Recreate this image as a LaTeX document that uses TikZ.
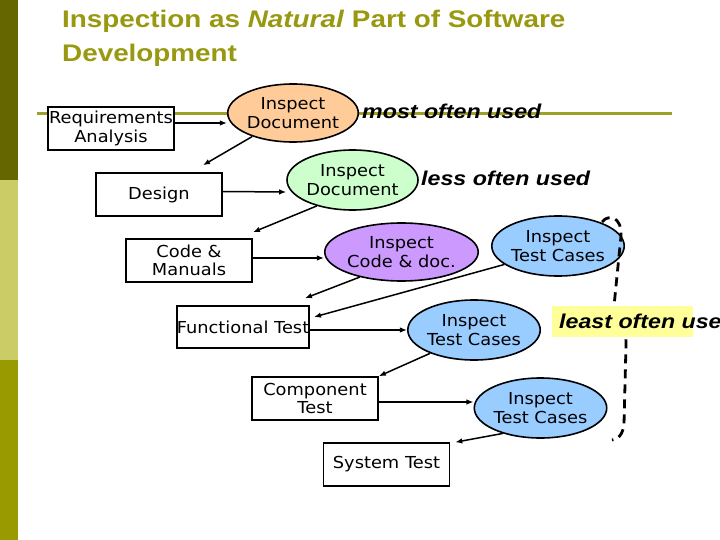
\documentclass[tikz,border=0pt]{standalone}
\usepackage{fontspec}
\usetikzlibrary{shapes.geometric,arrows.meta,calc}
\newfontfamily\vfont[FakeStretch=1.08]{DejaVu Sans}
\newfontfamily\afont[FakeStretch=1.16]{Liberation Sans}
\definecolor{bardark}{RGB}{102,102,0}
\definecolor{barlight}{RGB}{204,204,102}
\definecolor{barmid}{RGB}{153,153,0}
\definecolor{titlecol}{RGB}{153,153,17}
\definecolor{linecol}{RGB}{160,160,40}
\definecolor{orangefill}{RGB}{255,204,153}
\definecolor{greenfill}{RGB}{204,255,204}
\definecolor{purplefill}{RGB}{204,153,255}
\definecolor{bluefill}{RGB}{153,204,255}
\definecolor{yellowfill}{RGB}{255,255,153}
\begin{document}
\begin{tikzpicture}[x=1pt,y=-1pt,
  box/.style={draw, line width=1.6pt, fill=white, minimum width=126pt, minimum height=43pt,
    inner sep=0pt, align=center, font=\vfont\fontsize{16.5}{18.5}\selectfont},
  ell/.style={ellipse, draw, line width=1.6pt, inner sep=0pt, align=center,
    font=\vfont\fontsize{16.5}{18.5}\selectfont},
  arr/.style={line width=1.5pt, -{Latex[length=7pt,width=5.5pt]}},
  note/.style={anchor=west, inner sep=0pt, font=\afont\bfseries\itshape\fontsize{20}{24}\selectfont},
  brace/.style={line width=2.8pt, dash pattern=on 9pt off 6pt}]
\useasboundingbox (0,0) rectangle (720,540);
\fill[white] (0,0) rectangle (720,540);
% left bar
\fill[bardark] (0,0) rectangle (17.5,180);
\fill[barlight] (0,180) rectangle (17.5,360);
\fill[barmid] (0,360) rectangle (17.5,540);
% title
\node[anchor=north west, inner sep=0pt, align=left, text=titlecol,
  font=\afont\bfseries\fontsize{24}{34}\selectfont] (title) at (62,9.5)
  {Inspection as \textit{Natural} Part of Software\\Development};
% horizontal rule
\draw[linecol, line width=3pt] (37,114) -- (672,114);
% boxes
\node[box] (req) at (111,128.5) {Requirements\\Analysis};
\node[box] (design) at (159,194.5) {Design};
\node[box] (code) at (189,260.5) {Code \&\\Manuals};
\node[box, minimum height=42pt] (func) at (243,327) {Functional Test};
\node[box] (comp) at (315,398.5) {Component\\Test};
\node[box] (sys) at (386.5,464.5) {System Test};
% ellipses
\node[ell, fill=orangefill, minimum width=128pt, minimum height=58pt] (orange) at (293,113) {Inspect\\Document};
\node[ell, fill=greenfill, minimum width=131pt, minimum height=60pt] (green) at (352.5,180) {Inspect\\Document};
\node[ell, fill=purplefill, minimum width=129pt, minimum height=58pt] (purple) at (401.5,252) {Inspect\\Code \& doc.};
\node[ell, fill=bluefill, minimum width=132pt, minimum height=60pt] (tc1) at (558,246) {Inspect\\Test Cases};
\node[ell, fill=bluefill, minimum width=132pt, minimum height=60pt] (tc2) at (474,330) {Inspect\\Test Cases};
\node[ell, fill=bluefill, minimum width=131pt, minimum height=60pt] (tc3) at (540.5,408) {Inspect\\Test Cases};
% arrows
\draw[arr] ($(req.east)+(0,-5.5)$) -- ($(orange.west)+(0,10)$);
\draw[arr] (orange.210) -- ($(design.north)+(44,-7)$);
\draw[arr] ($(design.east)+(0,-3)$) -- ($(green.west)+(0,12)$);
\draw[arr] (green.216) -- ($(code.north)+(64,-6)$);
\draw[arr] ($(code.east)+(0,-2.5)$) -- ($(purple.west)+(0,6)$);
\draw[arr] (purple.211) -- ($(func.north)+(62,-7)$);
\draw[arr] (tc1.199) -- ($(func.east)+(4,-10)$);
\draw[arr] ($(func.east)+(0,3)$) -- (tc2.west);
\draw[arr] (tc2.208) -- (comp.north east);
\draw[arr] ($(comp.east)+(0,3.5)$) -- ($(tc3.west)+(0,-6)$);
\draw[arr] (tc3.214) -- ($(sys.north east)+(5,0)$);
% notes
\node[note] (most) at (362,111) {most often used};
\node[note] (less) at (421,178) {less often used};
% dashed brace
\draw[brace] (602,222) .. controls (608,214) and (622,216) .. (621,236)
  -- (614,306) .. controls (614,316) and (622,320) .. (632,322)
  .. controls (624,326) and (626,334) .. (626,345)
  -- (624,424) .. controls (623,434) and (618,440) .. (612,440);
\fill[yellowfill] (552,306) rectangle (693,337);
\node[note] (least) at (559,321) {least often used};
\end{tikzpicture}
\end{document}
